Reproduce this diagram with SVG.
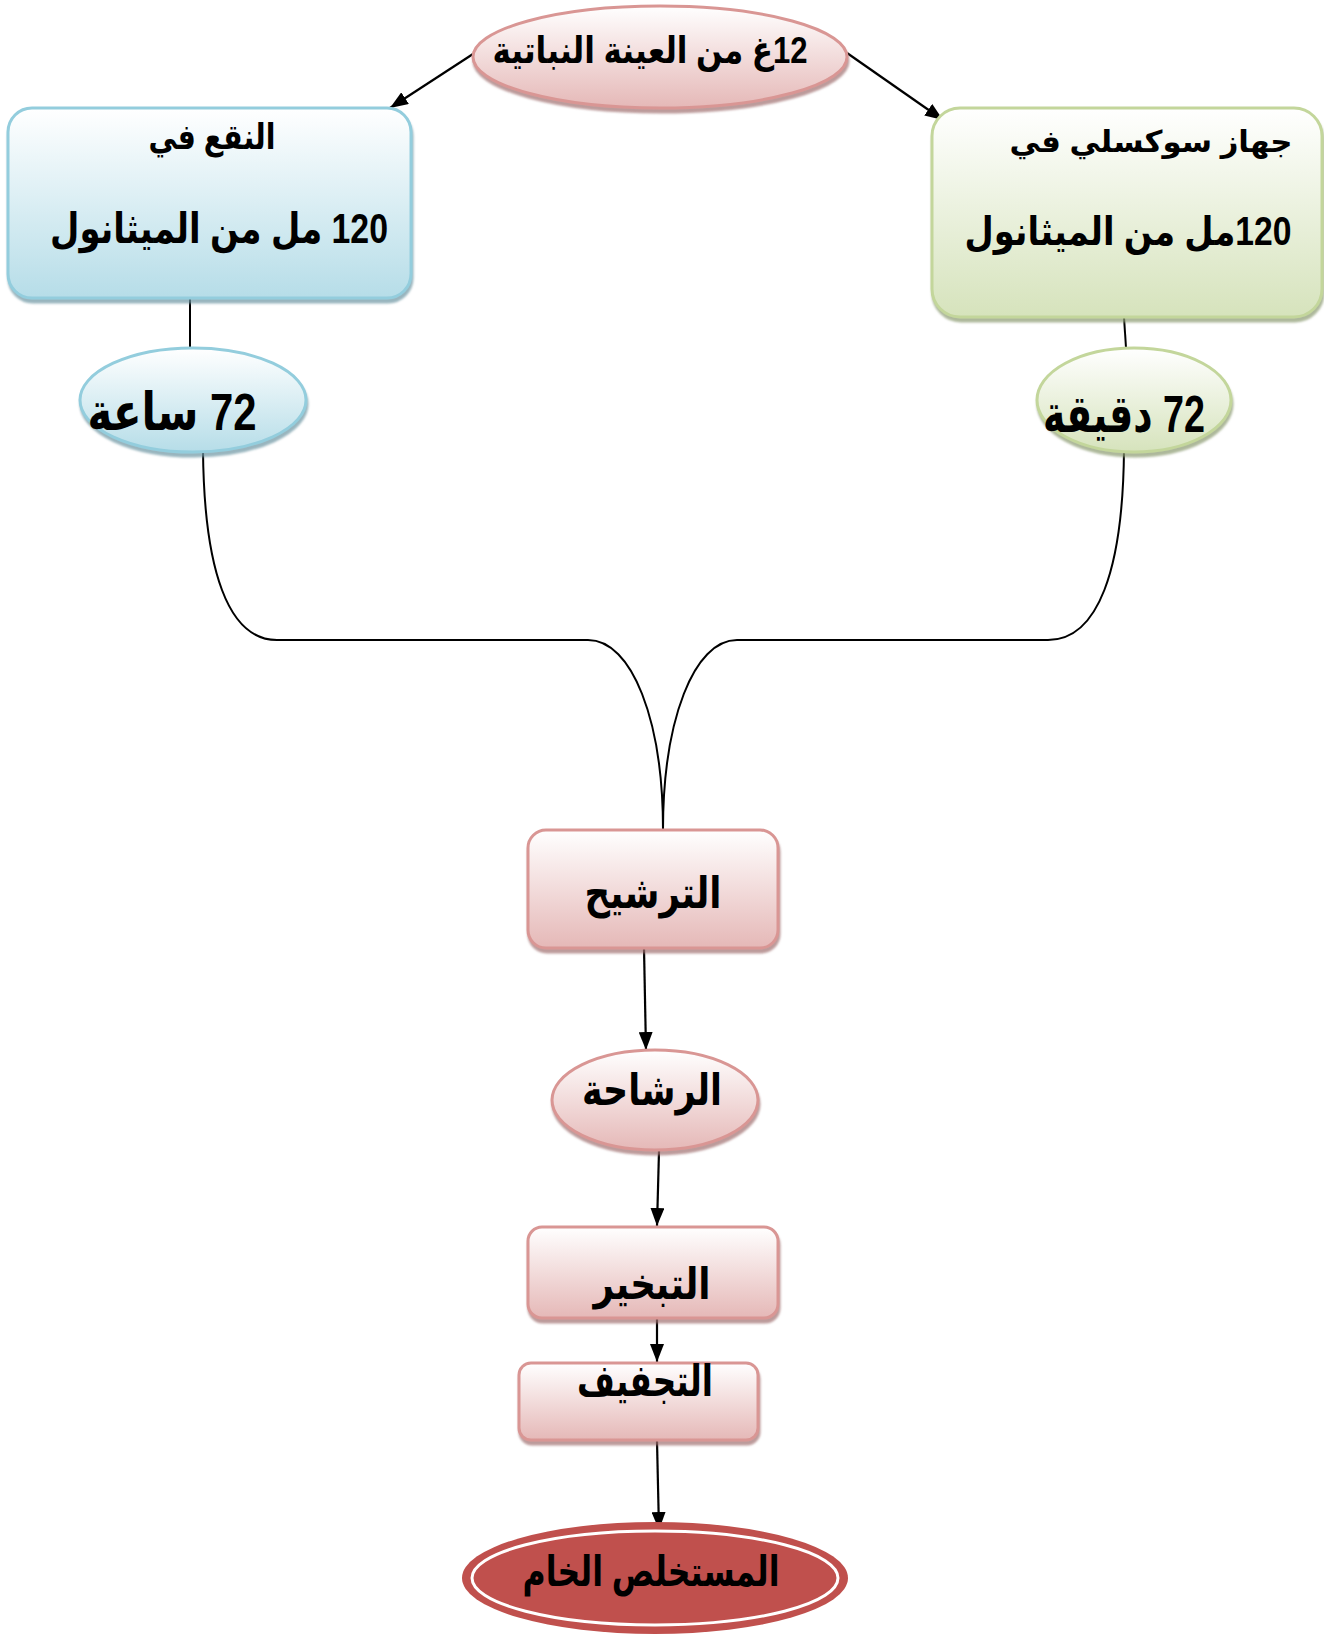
<svg xmlns="http://www.w3.org/2000/svg" width="1324" height="1634" viewBox="0 0 1324 1634">
<defs>
<linearGradient id="gPink" x1="0" y1="0" x2="0" y2="1"><stop offset="0" stop-color="#ffffff"/><stop offset="1" stop-color="#e5b8b7"/></linearGradient>
<linearGradient id="gBlue" x1="0" y1="0" x2="0" y2="1"><stop offset="0" stop-color="#ffffff"/><stop offset="1" stop-color="#b6dde8"/></linearGradient>
<linearGradient id="gGreen" x1="0" y1="0" x2="0" y2="1"><stop offset="0" stop-color="#ffffff"/><stop offset="1" stop-color="#d6e3bc"/></linearGradient>
<filter id="shPink" x="-10%" y="-10%" width="120%" height="130%"><feDropShadow dx="1" dy="4" stdDeviation="1" flood-color="#a07070" flood-opacity="0.7"/></filter>
<filter id="shBlue" x="-10%" y="-10%" width="120%" height="130%"><feDropShadow dx="1" dy="4" stdDeviation="1" flood-color="#6d95a2" flood-opacity="0.7"/></filter>
<filter id="shGreen" x="-5%" y="-10%" width="108%" height="130%"><feDropShadow dx="1" dy="4" stdDeviation="1" flood-color="#8a9a70" flood-opacity="0.7"/></filter>
<marker id="arr" viewBox="0 0 18 14" refX="18" refY="7" markerWidth="18" markerHeight="14" markerUnits="userSpaceOnUse" orient="auto"><path d="M0,0 L18,7 L0,14 z" fill="#000"/></marker>
<style>
.pink{fill:url(#gPink);stroke:#d99694;stroke-width:3;filter:url(#shPink)}
.blue{fill:url(#gBlue);stroke:#93cddd;stroke-width:3;filter:url(#shBlue)}
.green{fill:url(#gGreen);stroke:#c3d69b;stroke-width:3;filter:url(#shGreen)}
.t{font-family:"Liberation Sans","DejaVu Sans",sans-serif;font-weight:bold;fill:#000;text-anchor:middle;direction:rtl;unicode-bidi:embed}
.c{fill:none;stroke:#000;stroke-width:2}
.a{fill:none;stroke:#000;stroke-width:2.2;marker-end:url(#arr)}
</style>
</defs>
<g id="connectors">
<path class="a" d="M473,54 L390,108"/>
<path class="a" d="M847,53 L943,120"/>
<path class="c" d="M190,298 L190,348"/>
<path class="c" d="M1124,317 L1126,348"/>
<path class="c" d="M203,450 C204,570 228,640 277,640 L588,640 C632,640 663,720 663,830"/>
<path class="c" d="M1124,450 C1123,570 1098,640 1048,640 L737,640 C694,640 663,720 663,830"/>
<path class="a" d="M644,948 L646,1050"/>
<path class="a" d="M659,1151 L657,1226"/>
<path class="a" d="M657,1319 L657,1362"/>
<path class="a" d="M657,1441 L659,1530"/>
</g>
<g id="n-sample">
<ellipse class="pink" cx="660" cy="57" rx="187" ry="51"/>
<text class="t" x="650" y="63" font-size="37" textLength="315" lengthAdjust="spacingAndGlyphs">12غ من العينة النباتية</text>
</g>
<g id="n-maceration">
<rect class="blue" x="8" y="108" width="403" height="190" rx="24"/>
<text class="t" x="212" y="149" font-size="35" textLength="127" lengthAdjust="spacingAndGlyphs">النقع في</text>
<text class="t" x="219" y="243" font-size="42" textLength="338" lengthAdjust="spacingAndGlyphs">120 مل من الميثانول</text>
</g>
<g id="n-soxhlet">
<rect class="green" x="932" y="108" width="390" height="209" rx="28"/>
<text class="t" x="1151" y="152" font-size="30" textLength="283" lengthAdjust="spacingAndGlyphs">جهاز سوكسلي في</text>
<text class="t" x="1128" y="245" font-size="40" textLength="327" lengthAdjust="spacingAndGlyphs">120مل من الميثانول</text>
</g>
<g id="n-72h">
<ellipse class="blue" cx="193" cy="400" rx="113" ry="52"/>
<text class="t" x="172" y="430" font-size="52" textLength="169" lengthAdjust="spacingAndGlyphs">72 ساعة</text>
</g>
<g id="n-72m">
<ellipse class="green" cx="1134" cy="400" rx="97" ry="52"/>
<text class="t" x="1124" y="432" font-size="52" textLength="162" lengthAdjust="spacingAndGlyphs">72 دقيقة</text>
</g>
<g id="n-filtration">
<rect class="pink" x="528" y="830" width="250" height="118" rx="18"/>
<text class="t" x="653" y="908" font-size="44" textLength="137" lengthAdjust="spacingAndGlyphs">الترشيح</text>
</g>
<g id="n-filtrate">
<ellipse class="pink" cx="655" cy="1100" rx="103" ry="50"/>
<text class="t" x="652" y="1105" font-size="44" textLength="140" lengthAdjust="spacingAndGlyphs">الرشاحة</text>
</g>
<g id="n-evaporation">
<rect class="pink" x="528" y="1227" width="250" height="91" rx="14"/>
<text class="t" x="652" y="1299" font-size="44" textLength="117" lengthAdjust="spacingAndGlyphs">التبخير</text>
</g>
<g id="n-drying">
<rect class="pink" x="519" y="1363" width="239" height="77" rx="12"/>
<text class="t" x="645" y="1396" font-size="44" textLength="136" lengthAdjust="spacingAndGlyphs">التجفيف</text>
</g>
<g id="n-crude">
<ellipse cx="655" cy="1578" rx="193" ry="56" fill="#c0504d"/>
<ellipse cx="655" cy="1578" rx="183" ry="47" fill="none" stroke="#ffffff" stroke-width="3"/>
<text class="t" x="651" y="1586" font-size="42" textLength="257" lengthAdjust="spacingAndGlyphs">المستخلص الخام</text>
</g>
</svg>
